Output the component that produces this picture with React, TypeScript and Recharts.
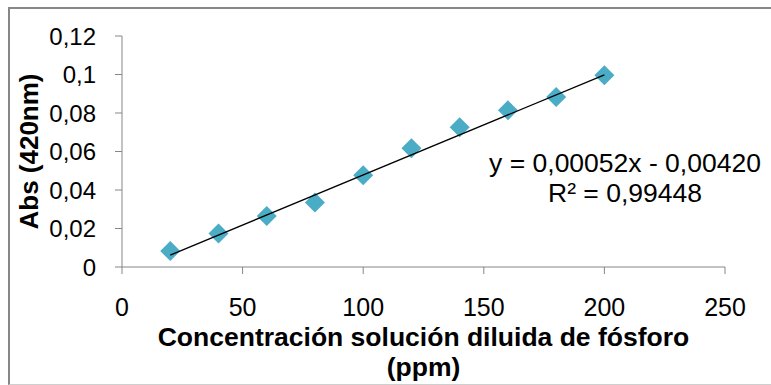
import { ScatterChart, Scatter, XAxis, YAxis, Label } from 'recharts';

// calibration points: concentration (ppm) vs absorbance at 420 nm
const concentrations = [20, 40, 60, 80, 100, 120, 140, 160, 180, 200];
const absorbances = [0.0083, 0.0174, 0.0265, 0.0335, 0.0476, 0.0617, 0.0726, 0.0814, 0.0883, 0.0996];

const xTicks = [0, 50, 100, 150, 200, 250];
const yTicks = [0, 0.02, 0.04, 0.06, 0.08, 0.1, 0.12];

// linear fit shown next to the line
const slope = 0.00052;
const intercept = -0.0042;
const fitText = 'y = 0,00052x - 0,00420';
const r2Text = 'R² = 0,99448';

const FONT = '"Liberation Sans", Arial, sans-serif';
const AXIS_GREY = '#868686';
const MARKER = '#4BACC6';

const points = concentrations.map((x, i) => ({ x, y: absorbances[i] }));
const fitEnds = [concentrations[0], concentrations[concentrations.length - 1]];
const fitLine = fitEnds.map((x) => ({ x, y: slope * x + intercept }));

const Diamond = (props: any) => {
  const { cx, cy } = props;
  const r = 10;
  return (
    <polygon
      points={`${cx},${cy - r} ${cx + r},${cy} ${cx},${cy + r} ${cx - r},${cy}`}
      fill={MARKER}
    />
  );
};

const NoDot = () => <g />;

const XTitle = ({ viewBox }: any) => {
  const cx = viewBox.x + viewBox.width / 2;
  return (
    <text textAnchor="middle" fontWeight="bold" fontSize={26.5} fontFamily={FONT} fill="#000">
      <tspan x={cx} y={viewBox.y + 79}>Concentración solución diluida de fósforo</tspan>
      <tspan x={cx} y={viewBox.y + 109}>(ppm)</tspan>
    </text>
  );
};

const YTitle = ({ viewBox }: any) => {
  const x = viewBox.x + 38;
  const y = viewBox.y + viewBox.height / 2;
  return (
    <text
      x={x}
      y={y}
      transform={`rotate(-90 ${x} ${y})`}
      textAnchor="middle"
      fontWeight="bold"
      fontSize={26}
      fontFamily={FONT}
      fill="#000"
    >
      Abs (420nm)
    </text>
  );
};

const fmt = (v: number) => String(v).replace('.', ',');

export default function App() {
  return (
    <div
      style={{
        position: 'absolute',
        left: 8,
        top: 7,
        width: 763,
        height: 378,
        boxSizing: 'border-box',
        borderLeft: '2px solid #878787',
        borderTop: '2px solid #878787',
        borderBottom: '1px solid #cfcfcf',
        background: '#fff',
        fontFamily: FONT,
      }}
    >
      <div style={{ position: 'absolute', left: -10, top: -9 }}>
        <ScatterChart width={771} height={385} margin={{ top: 36, right: 46, left: 0, bottom: 0 }}>
          <XAxis
            type="number"
            dataKey="x"
            domain={[0, 250]}
            ticks={xTicks}
            height={118}
            stroke={AXIS_GREY}
            tickSize={7}
            tickMargin={24}
            tick={{ fill: '#000', fontSize: 25, fontFamily: FONT }}
          >
            <Label content={<XTitle />} />
          </XAxis>
          <YAxis
            type="number"
            dataKey="y"
            domain={[0, 0.12]}
            ticks={yTicks}
            width={122}
            stroke={AXIS_GREY}
            tickSize={7}
            tickMargin={19}
            tickFormatter={fmt}
            tick={{ fill: '#000', fontSize: 24, fontFamily: FONT }}
          >
            <Label content={<YTitle />} />
          </YAxis>
          <Scatter data={points} shape={<Diamond />} isAnimationActive={false} />
          <Scatter
            data={fitLine}
            line={{ stroke: '#000', strokeWidth: 1.3 }}
            shape={<NoDot />}
            isAnimationActive={false}
          />
        </ScatterChart>
      </div>
      <svg
        width={771}
        height={385}
        style={{ position: 'absolute', left: -10, top: -9, pointerEvents: 'none' }}
      >
        <text textAnchor="middle" fontSize={26.5} fontFamily={FONT} fill="#000">
          <tspan x={625} y={172}>{fitText}</tspan>
          <tspan x={625} y={202}>{r2Text}</tspan>
        </text>
      </svg>
    </div>
  );
}
